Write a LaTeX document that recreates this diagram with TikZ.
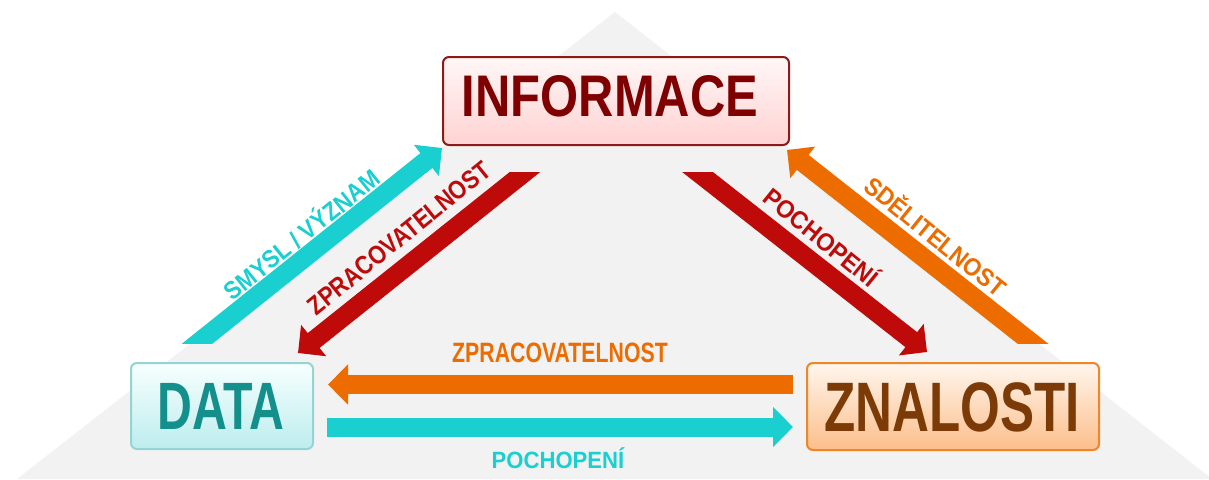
\documentclass[tikz,border=0pt]{standalone}
\usepackage{fontspec}
\usepackage{graphicx}
\setmainfont{Liberation Sans}
\usetikzlibrary{arrows.meta,calc}

\definecolor{bggray}{HTML}{F2F2F2}
\definecolor{arrcyan}{HTML}{19CFD0}
\definecolor{arrorange}{HTML}{EC6C00}
\definecolor{arrred}{HTML}{BF0A0A}
\definecolor{infoborder}{HTML}{8B1A1A}
\definecolor{infotext}{HTML}{7F0000}
\definecolor{infotop}{HTML}{FFF7F7}
\definecolor{infobot}{HTML}{FFD2D2}
\definecolor{databorder}{HTML}{96D3D3}
\definecolor{datatext}{HTML}{138F8C}
\definecolor{datatop}{HTML}{F7FFFF}
\definecolor{databot}{HTML}{BDEDED}
\definecolor{znalborder}{HTML}{F0862A}
\definecolor{znaltext}{HTML}{7B3A06}
\definecolor{znaltop}{HTML}{FFF6EE}
\definecolor{znalbot}{HTML}{FCBE8A}

% text whose box is exactly as tall as a capital letter
\newcommand{\captext}[1]{\raisebox{0pt}[\fontcharht\font`\H][0pt]{#1}}
% condensed bold label: size, horizontal scale, text
\newcommand{\lbl}[3]{\fontsize{#1}{#1}\selectfont\bfseries\scalebox{#2}[1]{\captext{#3}}}

\tikzset{
  box/.style={rounded corners=6pt, line width=2pt, inner sep=0pt},
  lab/.style={inner sep=0pt},
  bigarrow/.style={line width=19pt, -{Triangle[length=20pt,width=39pt]}},
}

\begin{document}
\begin{tikzpicture}[x=1pt,y=-1pt]
  \useasboundingbox (0,0) rectangle (1209,479);
  \fill[white] (0,0) rectangle (1209,479);
  % background pyramid
  \fill[bggray] (615,12) -- (1212,479) -- (17,479) -- cycle;

  % boxes
  \node[box, draw=infoborder, top color=infotop, bottom color=infobot,
        minimum width=346pt, minimum height=88pt] (info) at (616,101) {};
  \node[box, draw=databorder, top color=datatop, bottom color=databot,
        minimum width=182pt, minimum height=86pt] (data) at (222,406) {};
  \node[box, draw=znalborder, top color=znaltop, bottom color=znalbot,
        minimum width=292pt, minimum height=87pt] (znal) at (953,406.5) {};

  \node[lab, text=infotext] (infolbl) at (610,96) {\lbl{58.7}{0.833}{INFORMACE}};
  \node[lab, text=datatext] (datalbl) at (221,406) {\lbl{67}{0.72}{DATA}};
  \node[lab, text=znaltext] (znallbl) at (952,407) {\lbl{70}{0.73}{ZNALOSTI}};

  % arrow end points
  \coordinate (hoTail) at (793,384.5);
  \coordinate (hoTip)  at (328,384.5);
  \coordinate (hcTail) at (327,427);
  \coordinate (hcTip)  at (793,427);
  \coordinate (dcTail) at (198,343);
  \coordinate (dcTip)  at (442,148);
  \coordinate (drTail) at (525,172);
  \coordinate (drTip)  at (298,353);
  \coordinate (rrTail) at (697.5,172);
  \coordinate (rrTip)  at (927,352);
  \coordinate (roTail) at (1032,343);
  \coordinate (roTip)  at (787,150);

  % horizontal arrows
  \draw[bigarrow, arrorange] (hoTail) -- (hoTip);
  \draw[bigarrow, arrcyan] (hcTail) -- (hcTip);

  % upward diagonal arrows, tails cut level
  \begin{scope}
    \clip (0,0) rectangle (1209,343);
    \draw[bigarrow, arrcyan] ($(dcTail)!-20pt!(dcTip)$) -- (dcTip);
    \draw[bigarrow, arrorange] ($(roTail)!-20pt!(roTip)$) -- (roTip);
  \end{scope}
  % downward diagonal arrows, tails cut level
  \begin{scope}
    \clip (0,172) rectangle (1209,479);
    \draw[bigarrow, arrred] ($(drTail)!-20pt!(drTip)$) -- (drTip);
    \draw[bigarrow, arrred] ($(rrTail)!-20pt!(rrTip)$) -- (rrTip);
  \end{scope}

  % arrow labels
  \node[lab, text=arrorange] (hoLbl) at (560,353) {\lbl{28}{0.76}{ZPRACOVATELNOST}};
  \node[lab, text=arrcyan] (hcLbl) at (558,460.5) {\lbl{23.5}{0.94}{POCHOPENÍ}};
  \node[lab, text=arrcyan, rotate=38.6] (dcLbl) at (302,235) {\lbl{25}{0.9}{SMYSL / VÝZNAM}};
  \node[lab, text=arrred, rotate=39] (drLbl) at (399,238) {\lbl{26}{0.86}{ZPRACOVATELNOST}};
  \node[lab, text=arrred, rotate=-39] (rrLbl) at (821,238) {\lbl{25}{0.93}{POCHOPENÍ}};
  \node[lab, text=arrorange, rotate=-39] (roLbl) at (935,237) {\lbl{25}{0.91}{SDĚLITELNOST}};
\end{tikzpicture}
\end{document}
